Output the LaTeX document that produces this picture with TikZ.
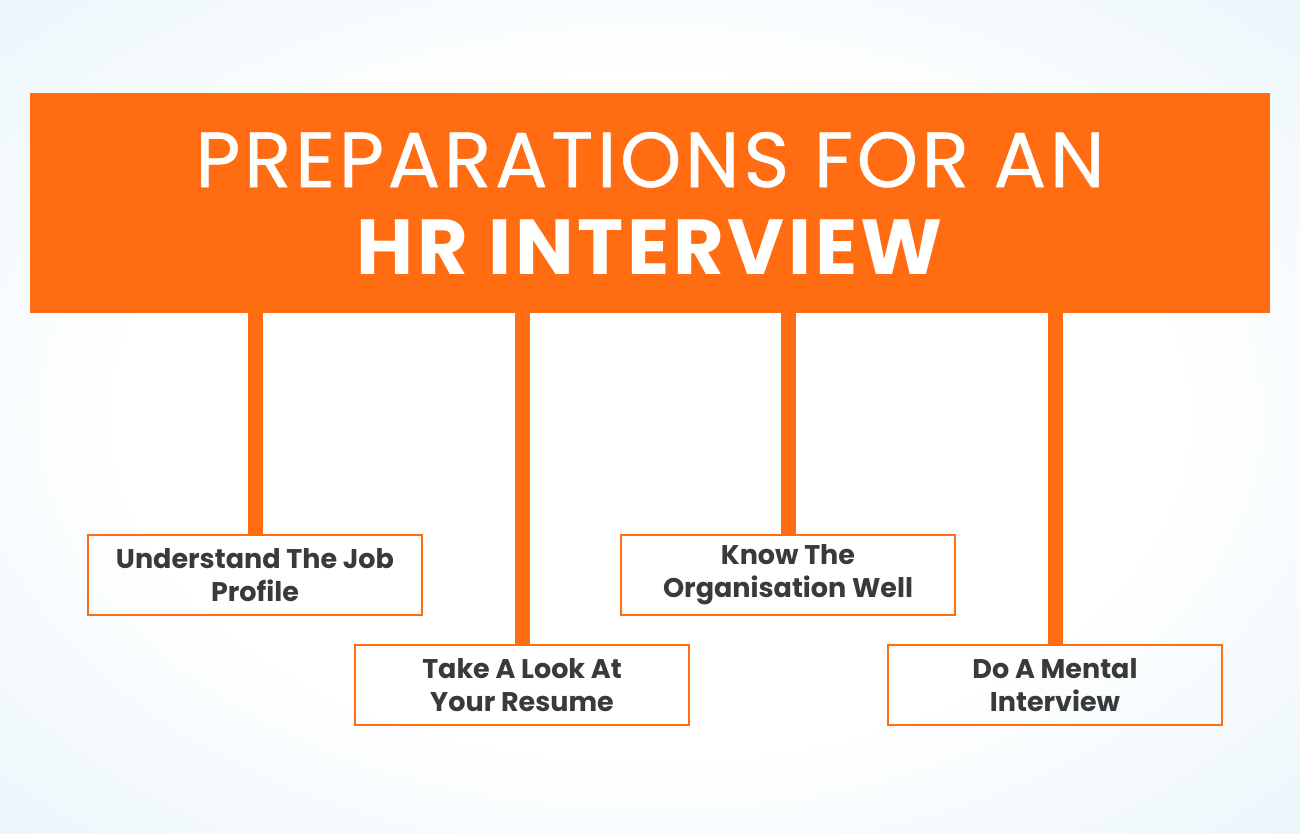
\documentclass[tikz,border=0pt]{standalone}
\usepackage{fontspec}
\setmainfont{Poppins}
\usetikzlibrary{positioning}

\definecolor{hrorange}{HTML}{FF6C11}
\definecolor{hrtext}{HTML}{3A3A3A}
\definecolor{hrsky}{HTML}{DAEEF8}

\pgfdeclareradialshading{hrglow}{\pgfpoint{0bp}{0bp}}{%
  color(0bp)=(white); color(20bp)=(white); color(49bp)=(hrsky); color(72bp)=(hrsky)}

\begin{document}
\begin{tikzpicture}[x=0.5pt,y=-0.5pt,
  stepbox/.style={draw=hrorange,line width=1.25pt,
    minimum width=167pt,minimum height=40pt,inner sep=0pt,align=center,
    text=hrtext,font=\bfseries\fontsize{13.5}{16.5}\selectfont},
  stem/.style={draw=hrorange,line width=7.5pt}]
\useasboundingbox (0,0) rectangle (1300,834);
\shade[shading=hrglow] (0,0) rectangle (1300,834);

% title banner
\node (banner) [fill=hrorange,minimum width=620pt,minimum height=109.5pt,
  inner sep=0pt,align=center,text=white,
  font={\fontsize{39}{43.5}\selectfont\addfontfeature{LetterSpace=4.7}}]
  at (650,203) {{\addfontfeature{FakeBold=0.6}PREPARATIONS FOR AN}\\ \bfseries HR INTERVIEW};

% the four steps
\node (job) [stepbox] at (255,575) {Understand The Job\\Profile};
\node (resume) [stepbox] at (522,685) {Take A Look At\\Your Resume};
\node (org) [stepbox] at (788,575) {Know The\\Organisation Well};
\node (mental) [stepbox] at (1055,685) {Do A Mental\\Interview};

\draw[stem] (banner.south -| job.north) -- (job.north);
\draw[stem] (banner.south -| resume.north) -- (resume.north);
\draw[stem] (banner.south -| org.north) -- (org.north);
\draw[stem] (banner.south -| mental.north) -- (mental.north);
\end{tikzpicture}
\end{document}
